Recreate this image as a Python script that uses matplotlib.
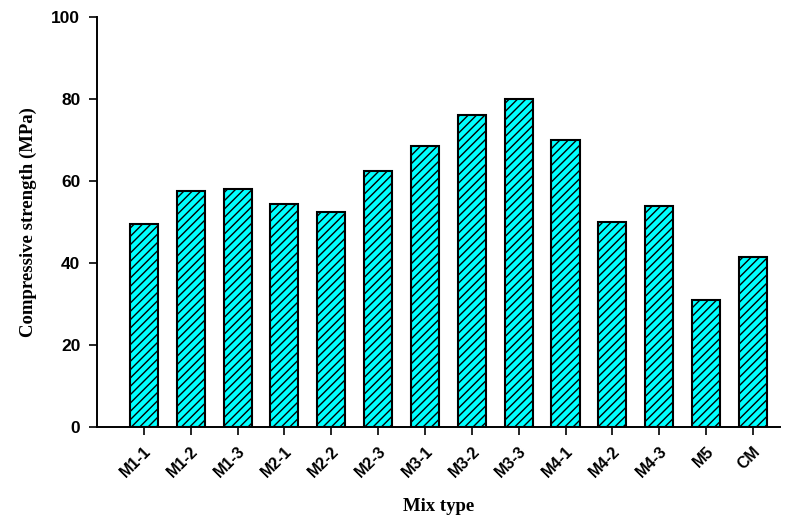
'''
Compressive strength of each mix type
'''

import matplotlib
matplotlib.use('Agg')
import matplotlib.pyplot as plt

mixes = ['M1-1', 'M1-2', 'M1-3', 'M2-1', 'M2-2', 'M2-3', 'M3-1',
         'M3-2', 'M3-3', 'M4-1', 'M4-2', 'M4-3', 'M5', 'CM']
strength = [49.5, 57.5, 58, 54.5, 52.5, 62.5, 68.5,
            76, 80, 70, 50, 54, 31, 41.5]

plt.rcParams['hatch.linewidth'] = 1.0

fig = plt.figure(figsize=(7.92, 5.18), dpi=100)
ax = fig.add_axes([0.1225, 0.176, 0.8625, 0.791])

positions = range(len(mixes))
ax.bar(positions, strength, width=0.6, color='#00FFFF', edgecolor='black',
       linewidth=1.5, hatch='////', zorder=2)

ax.set_xlim(-1, len(mixes) - 0.42)
ax.set_ylim(0, 100)
ax.set_yticks([0, 20, 40, 60, 80, 100])

ax.set_xticks(list(positions))
ax.set_xticklabels(mixes, rotation=45, ha='right', rotation_mode='anchor',
                   fontfamily='Liberation Sans', fontweight='bold', fontsize=11.5)
for lab in ax.get_yticklabels():
    lab.set_fontfamily('Liberation Sans')
    lab.set_fontweight('bold')
    lab.set_fontsize(12.5)

ax.spines['top'].set_visible(False)
ax.spines['right'].set_visible(False)
ax.spines['left'].set_linewidth(1.4)
ax.spines['bottom'].set_linewidth(1.4)
ax.tick_params(axis='both', direction='out', length=6, width=1.2, pad=6)

ax.set_ylabel('Compressive strength (MPa)', fontfamily='Liberation Serif',
              fontweight='bold', fontsize=13.5, labelpad=10)
ax.set_xlabel('Mix type', fontfamily='Liberation Serif',
              fontweight='bold', fontsize=13.5, labelpad=13)

fig.savefig('out.png', dpi=100)
